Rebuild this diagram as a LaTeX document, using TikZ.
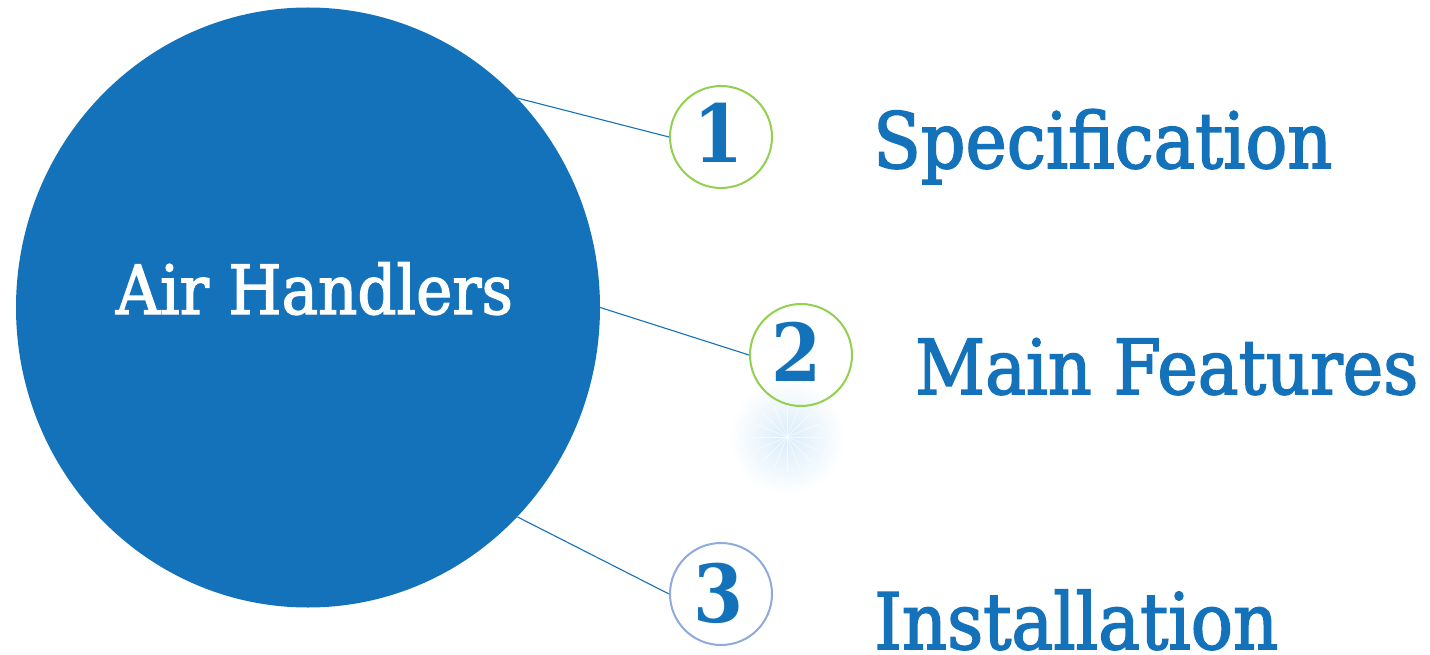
\documentclass[tikz,border=0pt]{standalone}
\usepackage{fontspec}
\setmainfont{DejaVu Serif}[FakeStretch=0.9]
\newfontfamily\heavyserif{DejaVu Serif}[FakeStretch=0.9, FakeBold=2]
\usetikzlibrary{shapes.geometric}
\definecolor{mainblue}{RGB}{19,114,185}
\definecolor{ringgreen}{RGB}{146,208,80}
\definecolor{ringblue}{RGB}{143,170,220}
\definecolor{glowblue}{RGB}{218,236,250}
\tikzset{
  hubstyle/.style={ellipse, fill=mainblue, minimum width=584pt, minimum height=600pt, inner sep=0pt},
  numring/.style={circle, draw, line width=2pt, minimum size=102pt, inner sep=0pt},
  numtxt/.style={anchor=base, inner sep=0pt, text=mainblue, font=\fontsize{80}{80}\selectfont\bfseries},
  lbl/.style={anchor=base west, inner sep=0pt, text=mainblue, font=\heavyserif},
  conn/.style={draw=mainblue, line width=1.1pt}
}
\begin{document}
\begin{tikzpicture}[x=1pt,y=-1pt]
\useasboundingbox (0,0) rectangle (1430,655);
\fill[white] (0,0) rectangle (1430,655);
% faint sparkle
\shade[inner color=glowblue, outer color=white] (787,437) circle (58);
\foreach \a in {0,22.5,...,337.5} \draw[white, line width=0.8pt, opacity=0.6] (787,437) -- ++(\a:34);
% hub
\node[hubstyle] (hub) at (308,307.5) {};
\node[anchor=base, inner sep=0pt, text=white, font=\heavyserif] (title) at (314.5,314) {\resizebox{397pt}{!}{Air Handlers}};
% rings
\node[numring, draw=ringgreen] (c1) at (721,137) {};
\node[numring, draw=ringgreen] (c2) at (801,355) {};
\node[numring, draw=ringblue] (c3) at (721,594) {};
\node[numtxt] (n1) at (719,163) {1};
\node[numtxt] (n2) at (797,381) {2};
\node[numtxt] (n3) at (719,622) {3};
% connectors
\draw[conn] (hub.45) -- (c1.west);
\draw[conn] (hub.east) -- (c2.west);
\draw[conn] (hub.-45) -- (c3.west);
% labels
\node[lbl] (l1) at (873,168) {\resizebox{459pt}{!}{Specification}};
\node[lbl] (l2) at (915,394) {\resizebox{503pt}{!}{Main Features}};
\node[lbl] (l3) at (874,649) {\resizebox{404pt}{!}{Installation}};
\end{tikzpicture}
\end{document}
